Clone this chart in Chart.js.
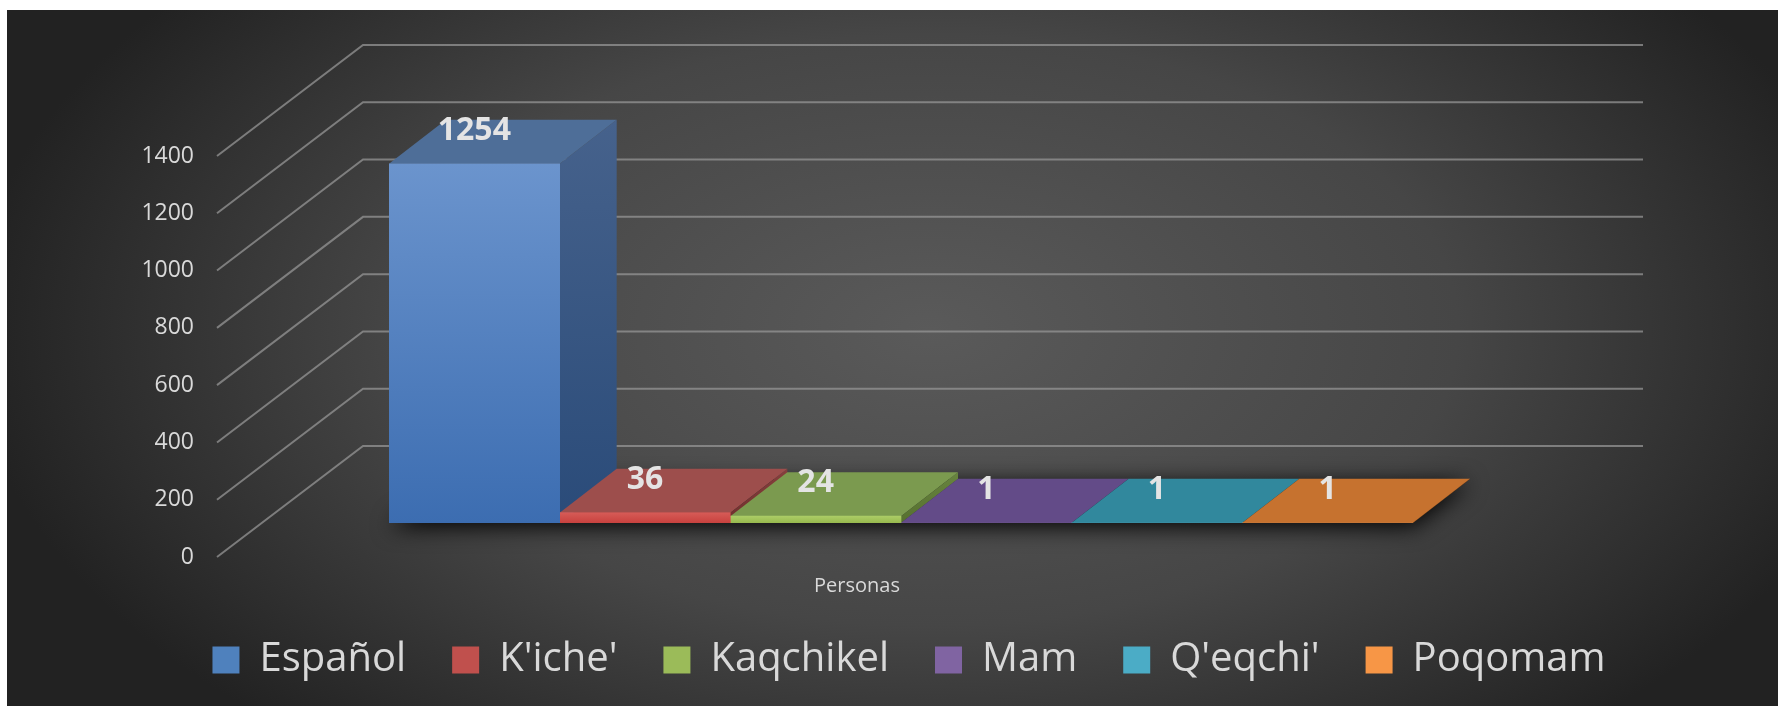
<!DOCTYPE html>
<html lang="es">
<head>
<meta charset="UTF-8" />
<title>Idioma de las personas</title>
<script src="https://cdn.jsdelivr.net/npm/chart.js"></script>
<style>
  html, body { margin: 0; padding: 0; background: #ffffff; }
  #wrap { width: 1778px; height: 706px; }
</style>
</head>
<body>
<div id="wrap"><canvas id="languageChart" width="1778" height="706"></canvas></div>
<script>
  // data
  const categories = ["Personas"];
  const languages = ["Español", "K'iche'", "Kaqchikel", "Mam", "Q'eqchi'", "Poqomam"];
  const people = [1254, 36, 24, 1, 1, 1];
  const yMin = 0;
  const yMax = 1400;
  const yStep = 200;

  // colours (office style palette, shaded for the 3d look)
  const legendColors = ["#4f81bd", "#c0504d", "#9bbb59", "#8064a2", "#4bacc6", "#f79646"];
  const frontTop = ["#6b94cd", "#d65b57", "#abcc66", "#8a6db0", "#55b8d2", "#f99d55"];
  const frontBot = ["#3c6db1", "#c8413e", "#97b94e", "#7152a0", "#38a2c2", "#ef8530"];
  const topFace = ["#4e6e98", "#9d4e4c", "#7b9a4f", "#634b88", "#31889d", "#c6722f"];
  const sideTop = ["#46628c", "#873f3d", "#68843f", "#4f3a70", "#267084", "#a85d22"];
  const sideBot = ["#2a4b79", "#6e2f2d", "#56702f", "#3f2c5c", "#1b5d70", "#8e4c18"];

  const DX = 57, DY = -44;      // depth of the bars
  const FONT = "'Open Sans', 'Noto Sans', sans-serif";
  const TEXT = "#d9d9d9";

  function frontFill(i) {
    return (ctx) => {
      const chart = ctx.chart;
      const area = chart.chartArea;
      if (!area || ctx.raw === undefined) return legendColors[i];
      const top = chart.scales.y.getPixelForValue(ctx.raw);
      const g = chart.ctx.createLinearGradient(0, Math.min(top, area.bottom - 1), 0, area.bottom);
      g.addColorStop(0, frontTop[i]);
      g.addColorStop(1, frontBot[i]);
      return g;
    };
  }

  const backdrop = {
    id: "backdrop",
    beforeDraw(chart) {
      const c = chart.ctx;
      c.save();
      c.fillStyle = "#ffffff";
      c.fillRect(0, 0, chart.width, chart.height);
      c.beginPath();
      c.rect(7, 10, chart.width - 7, chart.height - 10);
      c.clip();
      c.translate(930, 330);
      c.scale(1, 0.56);
      const g = c.createRadialGradient(0, 0, 0, 0, 0, 960);
      g.addColorStop(0, "#5a5a5a");
      g.addColorStop(0.55, "#464646");
      g.addColorStop(1, "#222222");
      c.fillStyle = g;
      c.fillRect(-1000, -1000, 2000, 2000);
      c.restore();
    }
  };

  // back wall gridlines, floor shadow, top and side faces
  const walls = {
    id: "walls",
    beforeDatasetsDraw(chart) {
      const c = chart.ctx;
      const y = chart.scales.y;
      const area = chart.chartArea;
      c.save();
      c.strokeStyle = "rgba(150,150,150,0.75)";
      c.lineWidth = 2;
      y.ticks.forEach((t) => {
        const fy = y.getPixelForValue(t.value);
        c.beginPath();
        c.moveTo(area.left - 172, fy + 34);
        c.lineTo(area.left - 26, fy - 77);
        c.lineTo(area.right + 230, fy - 77);
        c.stroke();
      });

      const metas = chart.data.datasets.map((d, i) => chart.getDatasetMeta(i).data[0]);
      const first = metas[0], last = metas[metas.length - 1];
      const fl = first.x - first.width / 2, fr = last.x + last.width / 2, fb = first.base;
      c.save();
      c.shadowColor = "rgba(0,0,0,0.95)";
      c.shadowBlur = 22;
      c.shadowOffsetY = 4;
      c.fillStyle = "#141414";
      c.beginPath();
      c.moveTo(fl, fb);
      c.lineTo(fl + DX, fb + DY);
      c.lineTo(fr + DX, fb + DY);
      c.lineTo(fr, fb);
      c.closePath();
      c.fill();
      c.restore();

      metas.forEach((el, i) => {
        const l = el.x - el.width / 2, r = el.x + el.width / 2, t = el.y, b = el.base;
        const sg = c.createLinearGradient(0, t + DY, 0, b);
        sg.addColorStop(0, sideTop[i]);
        sg.addColorStop(1, sideBot[i]);
        c.fillStyle = sg;
        c.beginPath();
        c.moveTo(r, t);
        c.lineTo(r + DX, t + DY);
        c.lineTo(r + DX, b + DY);
        c.lineTo(r, b);
        c.closePath();
        c.fill();

        c.fillStyle = topFace[i];
        c.beginPath();
        c.moveTo(l, t);
        c.lineTo(l + DX, t + DY);
        c.lineTo(r + DX, t + DY);
        c.lineTo(r, t);
        c.closePath();
        c.fill();
      });
      c.restore();
    },
    afterDatasetsDraw(chart) {
      const c = chart.ctx;
      c.save();
      c.fillStyle = "#e4e4e4";
      c.font = "bold 32px " + FONT;
      c.textAlign = "center";
      c.textBaseline = "middle";
      chart.data.datasets.forEach((ds, i) => {
        const el = chart.getDatasetMeta(i).data[0];
        c.fillText(String(ds.data[0]), el.x, el.y + DY / 2 - 11);
      });
      c.restore();
    }
  };

  const datasets = languages.map((name, i) => ({
    label: name,
    data: [people[i]],
    backgroundColor: frontFill(i),
    borderWidth: 0,
    categoryPercentage: 1,
    barPercentage: 1,
    yAxisID: "y"
  }));

  new Chart(document.getElementById("languageChart"), {
    type: "bar",
    data: { labels: categories, datasets: datasets },
    plugins: [backdrop, walls],
    options: {
      responsive: false,
      animation: false,
      events: [],
      layout: { padding: { left: 40, top: 122, right: 0, bottom: 16 } },
      scales: {
        x: {
          grid: { display: false, drawTicks: false },
          border: { display: false },
          ticks: { color: TEXT, font: { family: FONT, size: 20 }, padding: 51, labelOffset: -44 },
          afterFit(s) { s.height = 71; }
        },
        y: {
          min: yMin,
          max: yMax,
          grid: { display: false, drawTicks: false },
          border: { display: false },
          ticks: {
            stepSize: yStep, color: TEXT, font: { family: FONT, size: 23 }, padding: 195, labelOffset: 34,
            callback: (v) => String(v)
          },
          // labels sit far left of the plot; keep that gap out of the vertical layout
          afterFit(s) { s.width = 349; s.paddingTop = 0; s.paddingBottom = 0; }
        },
        yR: {
          position: "right",
          grid: { display: false, drawTicks: false },
          border: { display: false },
          ticks: { display: false },
          afterFit(s) { s.width = 365; }
        }
      },
      plugins: {
        tooltip: { enabled: false },
        legend: {
          position: "bottom",
          labels: {
            boxWidth: 27,
            boxHeight: 27,
            padding: 46,
            color: TEXT,
            font: { family: FONT, size: 40 },
            generateLabels(chart) {
              return chart.data.datasets.map((ds, i) => ({
                text: ds.label,
                fillStyle: legendColors[i],
                strokeStyle: legendColors[i],
                lineWidth: 0,
                fontColor: TEXT,
                hidden: false,
                datasetIndex: i
              }));
            }
          }
        }
      }
    }
  });
</script>
</body>
</html>
